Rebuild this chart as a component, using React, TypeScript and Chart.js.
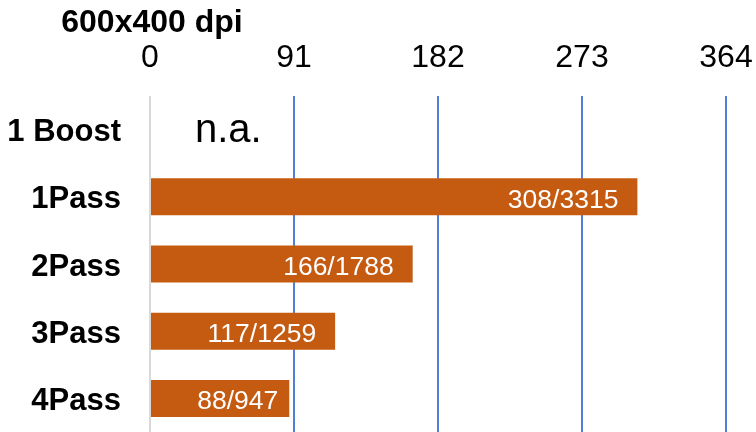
import React, { useEffect, useRef } from "react";
import { Chart, registerables } from "chart.js";

Chart.register(...registerables);

const chartTitle = "600x400 dpi";
const categories = ["1 Boost", "1Pass", "2Pass", "3Pass", "4Pass"];
const values: (number | null)[] = [null, 308, 166, 117, 88];
const valueLabels = ["n.a.", "308/3315", "166/1788", "117/1259", "88/947"];
const xTicks = [0, 91, 182, 273, 364];

const labelOffsets = [0, 19, 19, 19, 11];

const textPlugin = {
  id: "textPlugin",
  afterDatasetsDraw(chart: any) {
    const ctx = chart.ctx;
    const xs = chart.scales.x;
    const ys = chart.scales.y;
    const meta = chart.getDatasetMeta(0);
    ctx.save();
    // title
    ctx.font = "bold 32px 'Liberation Sans', Arial, sans-serif";
    ctx.fillStyle = "#000";
    ctx.textAlign = "center";
    ctx.textBaseline = "alphabetic";
    ctx.fillText(chartTitle, xs.getPixelForValue(0) + 2, 32);
    // value labels
    valueLabels.forEach((lab, i) => {
      const yc = ys.getPixelForValue(i);
      const v = values[i];
      if (v === null || v === undefined) {
        ctx.font = "40px 'Liberation Sans', Arial, sans-serif";
        ctx.fillStyle = "#000";
        ctx.textAlign = "left";
        ctx.fillText(lab, xs.getPixelForValue(0) + 45, yc + 12);
      } else {
        const el = meta.data[i];
        ctx.font = "26.5px 'Liberation Sans', Arial, sans-serif";
        ctx.fillStyle = "#fff";
        ctx.textAlign = "right";
        ctx.fillText(lab, el.x - labelOffsets[i], yc + 11);
      }
    });
    ctx.restore();
  },
};

export default function App() {
  const ref = useRef<HTMLCanvasElement | null>(null);
  useEffect(() => {
    if (!ref.current) return;
    const chart = new Chart(ref.current, {
      type: "bar",
      data: {
        labels: categories,
        datasets: [
          {
            data: values as any,
            backgroundColor: "#C55A11",
            barPercentage: 0.55,
            categoryPercentage: 1,
          },
        ],
      },
      options: {
        indexAxis: "y",
        animation: false,
        responsive: false,
        maintainAspectRatio: false,
        layout: { padding: { left: 0, right: 30, top: 0, bottom: 0 } },
        plugins: {
          legend: { display: false },
          tooltip: { enabled: false },
          title: { display: false },
        },
        scales: {
          x: {
            position: "top",
            min: 0,
            max: 364,
            afterBuildTicks: (s: any) => {
              s.ticks = xTicks.map((v) => ({ value: v }));
            },
            afterFit: (s: any) => {
              s.height = 96;
              s.paddingLeft = 0;
              s.paddingRight = 0;
            },
            ticks: {
              color: "#000",
              padding: 19,
              font: { family: "'Liberation Sans', Arial, sans-serif", size: 32 },
              maxRotation: 0,
            },
            grid: {
              drawTicks: false,
              lineWidth: 2,
              color: (c: any) => (c.index === 0 ? "#d9d9d9" : "#4f7fd6"),
            },
            border: { display: false },
          },
          y: {
            afterFit: (s: any) => {
              s.width = 150;
              s.paddingTop = 0;
              s.paddingBottom = 0;
            },
            ticks: {
              color: "#000",
              padding: 29,
              labelOffset: 3,
              font: { family: "'Liberation Sans', Arial, sans-serif", size: 31, weight: "bold" },
            },
            grid: { display: false, drawTicks: false },
            border: { display: false },
          },
        },
      },
      plugins: [textPlugin],
    });
    return () => chart.destroy();
  }, []);
  return (
    <div style={{ position: "fixed", left: 0, top: 0, width: 756, height: 432, background: "#fff" }}>
      <canvas ref={ref} width={756} height={432} style={{ width: 756, height: 432, display: "block" }} />
    </div>
  );
}
